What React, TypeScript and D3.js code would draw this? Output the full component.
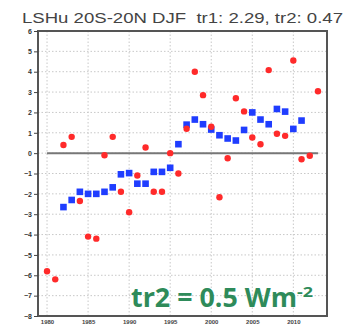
import { useRef, useEffect } from 'react';
import * as d3 from 'd3';

// annual values
const redYears = d3.range(1980, 2014);
const redVals = [
  -5.8, -6.2, 0.4, 0.8, -2.35, -4.1, -4.2, -0.1, 0.8, -1.9,
  -2.9, -1.1, 0.28, -1.9, -1.9, 0.0, -1.0, 1.2, 4.0, 2.85,
  1.3, -2.17, -0.25, 2.7, 2.05, 0.77, 0.44, 4.08, 0.95, 0.85,
  4.55, -0.3, -0.13, 3.04,
];
const blueYears = d3.range(1982, 2012);
const blueVals = [
  -2.65, -2.3, -1.9, -2.0, -2.0, -1.9, -1.68, -1.04, -0.98, -1.5,
  -1.5, -0.92, -0.92, -0.72, 0.44, 1.4, 1.65, 1.42, 1.16, 0.88,
  0.72, 0.62, 1.14, 2.0, 1.65, 1.42, 2.17, 2.04, 1.19, 1.6,
];
const xTicks = [1980, 1985, 1990, 1995, 2000, 2005, 2010];
const yTicks = d3.range(-8, 7);
const title = 'LSHu 20S-20N DJF  tr1: 2.29, tr2: 0.47';

export default function App() {
  const ref = useRef<SVGSVGElement>(null);

  useEffect(() => {
    const svg = d3.select(ref.current);
    svg.selectAll('*').remove();

    const x = d3.scaleLinear().domain([1978.9, 2014.1]).range([38, 327]);
    const y = d3.scaleLinear().domain([-8, 6]).range([316, 31]);

    svg.append('rect').attr('width', 345).attr('height', 331).attr('fill', '#fff');

    // dotted grid
    svg.append('g')
      .selectAll('line')
      .data(yTicks.slice(1, -1))
      .join('line')
        .attr('x1', 38).attr('x2', 327)
        .attr('y1', d => y(d)).attr('y2', d => y(d))
        .attr('stroke', '#c8c8c8').attr('stroke-width', 1)
        .attr('stroke-dasharray', '1.5,2');

    svg.append('g')
      .selectAll('line')
      .data(xTicks)
      .join('line')
        .attr('x1', d => x(d)).attr('x2', d => x(d))
        .attr('y1', 31).attr('y2', 316)
        .attr('stroke', '#c8c8c8').attr('stroke-width', 1)
        .attr('stroke-dasharray', '1.5,2');

    // zero line
    svg.append('line')
      .attr('x1', x(1980)).attr('x2', x(2013))
      .attr('y1', y(0)).attr('y2', y(0))
      .attr('stroke', '#777').attr('stroke-width', 2);

    // frame
    svg.append('rect')
      .attr('x', 38).attr('y', 31).attr('width', 289).attr('height', 285)
      .attr('fill', 'none').attr('stroke', '#555').attr('stroke-width', 2);

    // axes
    svg.append('g')
      .attr('transform', 'translate(38,0)')
      .call(d3.axisLeft(y).tickValues(yTicks).tickSize(4).tickPadding(2).tickFormat(d3.format('d')))
      .call(g => g.select('.domain').remove())
      .call(g => g.selectAll('line').attr('stroke', '#444'))
      .call(g => g.selectAll('text')
        .attr('font-family', 'Liberation Sans, Arial, sans-serif')
        .attr('font-size', 7).attr('font-weight', 700).attr('fill', '#333'));

    svg.append('g')
      .attr('transform', 'translate(0,316)')
      .call(d3.axisBottom(x).tickValues(xTicks).tickSize(0).tickPadding(4).tickFormat(d3.format('d')))
      .call(g => g.select('.domain').remove())
      .call(g => g.selectAll('text')
        .attr('font-family', 'Liberation Sans, Arial, sans-serif')
        .attr('font-size', 6).attr('font-weight', 700).attr('fill', '#444'));

    // blue squares
    svg.append('g')
      .selectAll('rect')
      .data(blueYears.map((yr, i) => [yr, blueVals[i]]))
      .join('rect')
        .attr('x', d => x(d[0]) - 3.3).attr('y', d => y(d[1]) - 3.3)
        .attr('width', 6.6).attr('height', 6.6)
        .attr('fill', '#1f3dff');

    // red dots
    svg.append('g')
      .selectAll('circle')
      .data(redYears.map((yr, i) => [yr, redVals[i]]))
      .join('circle')
        .attr('cx', d => x(d[0])).attr('cy', d => y(d[1]))
        .attr('r', 3.2)
        .attr('fill', '#ff2a2a');

    // title
    svg.append('text')
      .attr('x', 22).attr('y', 22.5)
      .attr('font-family', 'Liberation Sans, Arial, sans-serif')
      .attr('font-size', 15).attr('fill', '#444')
      .attr('textLength', 321).attr('lengthAdjust', 'spacingAndGlyphs')
      .style('white-space', 'pre')
      .text(title);

    // annotation
    const note = svg.append('text')
      .attr('x', 131).attr('y', 306.5)
      .attr('font-family', 'Open Sans, Liberation Sans, sans-serif')
      .attr('font-weight', 700).attr('fill', '#2e8b5a');
    note.append('tspan').attr('font-size', 26)
      .attr('textLength', 166).attr('lengthAdjust', 'spacingAndGlyphs')
      .text('tr2 = 0.5 Wm');
    note.append('tspan').attr('font-size', 15).attr('dy', -10)
      .attr('textLength', 16).attr('lengthAdjust', 'spacingAndGlyphs')
      .text('-2');
  }, []);

  return (
    <svg ref={ref} width={345} height={331}
      style={{ position: 'absolute', left: 0, top: 0 }} />
  );
}
